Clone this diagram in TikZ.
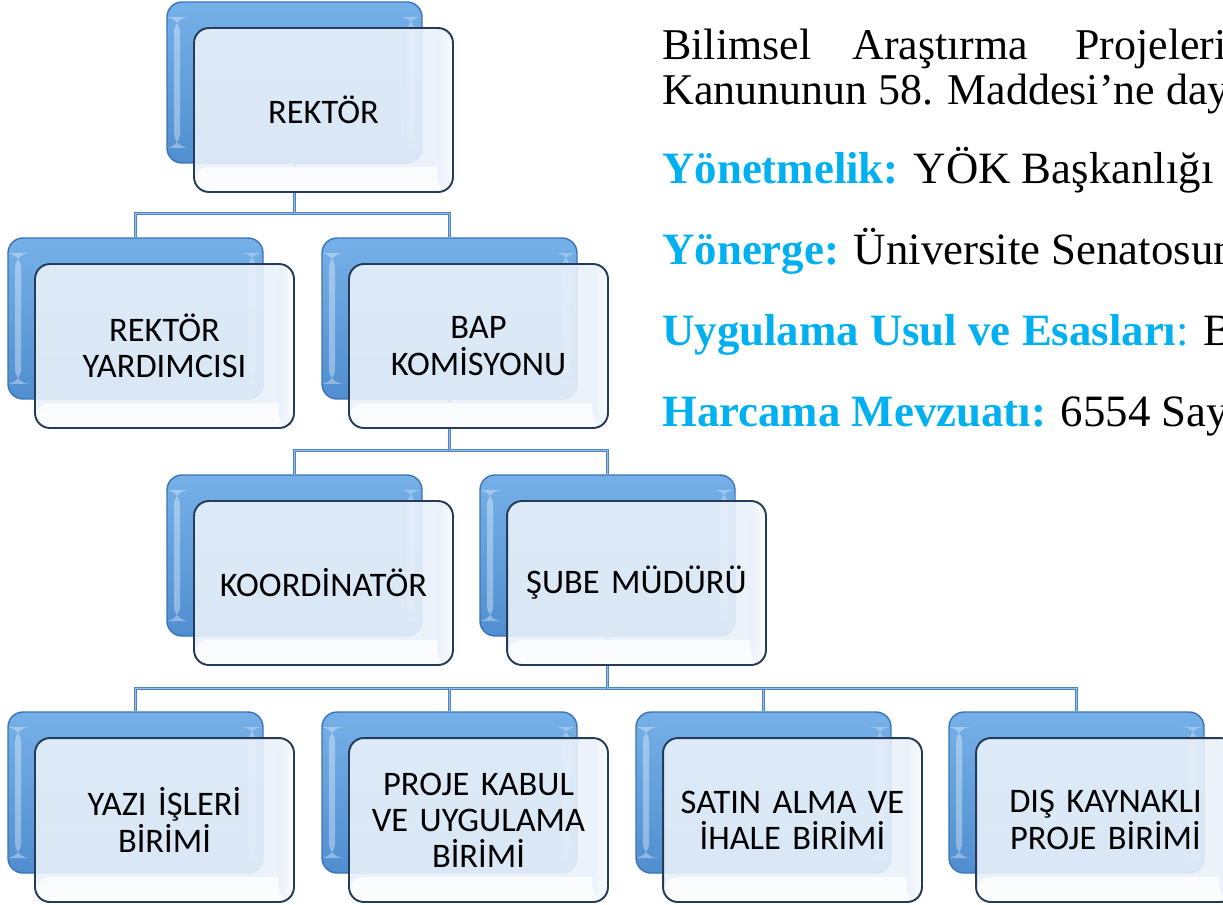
\documentclass[tikz,border=0pt]{standalone}
\usepackage{fontspec}
\setmainfont{Liberation Serif}
\newfontfamily\boxfont[WordSpace=0.8]{Carlito}
\usetikzlibrary{backgrounds}
\definecolor{backtop}{RGB}{118,176,232}
\definecolor{backbot}{RGB}{80,142,208}
\definecolor{backedge}{RGB}{58,116,182}
\definecolor{frontedge}{RGB}{36,60,90}
\definecolor{frontfill}{RGB}{233,241,250}
\definecolor{linkblue}{RGB}{78,132,194}
\definecolor{linklight}{RGB}{150,190,230}
\definecolor{cyanhead}{RGB}{0,176,240}
\tikzset{
  backbox/.style={draw=backedge, line width=0.8pt, rounded corners=8.5pt,
    top color=backtop, bottom color=backbot,
    minimum width=5.1cm, minimum height=3.22cm, inner sep=0pt,
    path picture={
      \fill[white,opacity=0.35] ([xshift=0.14cm,yshift=0.3cm]path picture bounding box.south west)
        rectangle ([xshift=0.26cm,yshift=-0.3cm]path picture bounding box.north west);
      \fill[white,opacity=0.3] ([xshift=-0.3cm,yshift=0.3cm]path picture bounding box.south east)
        rectangle ([xshift=-0.14cm,yshift=-0.3cm]path picture bounding box.north east);
    }},
  frontbox/.style={draw=frontedge, line width=1.1pt, rounded corners=8.5pt,
    fill=frontfill, fill opacity=0.9, text opacity=1,
    minimum width=5.18cm, minimum height=3.28cm, inner sep=0pt,
    align=center, text width=4.95cm,
    font=\boxfont\fontsize{19.6}{20.6}\selectfont,
    path picture={
      \fill[bottom color=white, top color=frontfill, opacity=0.9]
        (path picture bounding box.south west) rectangle
        ([yshift=0.5cm]path picture bounding box.south east);
      \fill[left color=frontfill, right color=white, opacity=0.9]
        ([xshift=-0.3cm]path picture bounding box.south east) rectangle
        (path picture bounding box.north east);
    }},
  link/.style={draw=linkblue, line width=1.7pt,
    postaction={draw=linklight, line width=0.5pt}},
  rtext/.style={inner sep=0pt, anchor=base west, font=\fontsize{25}{30}\selectfont},
  rhead/.style={inner sep=0pt, anchor=base west, font=\fontsize{25.5}{30}\selectfont},
}
\newcommand\orgpair[4]{%
  \node[backbox] (#1b) at ({#2+127.5},{#3+80.5}) {};
  \node[frontbox] (#1) at ({#2+156.5},{#3+108}) {#4};
}
\newcommand\hd[1]{\textcolor{cyanhead}{\bfseries #1}}
\begin{document}
\begin{tikzpicture}[x=0.02cm, y=-0.02cm]
\useasboundingbox (0,0) rectangle (1223,904);
\clip (0,0) rectangle (1223,904);

\orgpair{rek}{167}{2}{REKTÖR}
\orgpair{ry}{8}{238}{REKTÖR\\YARDIMCISI}
\orgpair{bap}{322}{238}{BAP\\KOMİSYONU}
\orgpair{koo}{167}{475}{KOORDİNATÖR}
\orgpair{sube}{480}{475}{ŞUBE MÜDÜRÜ}
\orgpair{yaz}{8}{712}{YAZI İŞLERİ\\BİRİMİ}
\orgpair{pro}{322}{712}{PROJE KABUL\\VE UYGULAMA\\BİRİMİ}
\orgpair{sat}{636}{712}{SATIN ALMA VE\\İHALE BİRİMİ}
\orgpair{dis}{949}{712}{DIŞ KAYNAKLI\\PROJE BİRİMİ}

\begin{scope}[on background layer]
  \draw[link] (rekb.south) -- ++(0,50) -| (ryb.north);
  \draw[link] (rekb.south) -- ++(0,50) -| (bapb.north);
  \draw[link] (bapb.south) -- ++(0,51) -| (koob.north);
  \draw[link] (bapb.south) -- ++(0,51) -| (subeb.north);
  \draw[link] (subeb.south) -- ++(0,52) -| (yazb.north);
  \draw[link] (subeb.south) -- ++(0,52) -| (prob.north);
  \draw[link] (subeb.south) -- ++(0,52) -| (satb.north);
  \draw[link] (subeb.south) -- ++(0,52) -| (disb.north);
\end{scope}

\node[rtext] (t1a) at (662,59) {Bilimsel};
\node[rtext] (t1b) at (852,59) {Araştırma};
\node[rtext] (t1c) at (1075,59) {Projeleri};
\node[rtext] (t2) at (662,104) {Kanununun 58. Maddesi’ne dayanarak};
\node[rhead] (t3) at (662,183) {\hd{Yönetmelik:} YÖK Başkanlığı};
\node[rhead] (t4) at (662,264) {\hd{Yönerge:} Üniversite Senatosunca};
\node[rhead] (t5) at (662,345) {\hd{Uygulama Usul ve Esasları}\textcolor{cyanhead}{:} BAP};
\node[rhead] (t6) at (662,426) {\hd{Harcama Mevzuatı:} 6554 Sayılı};
\end{tikzpicture}
\end{document}
